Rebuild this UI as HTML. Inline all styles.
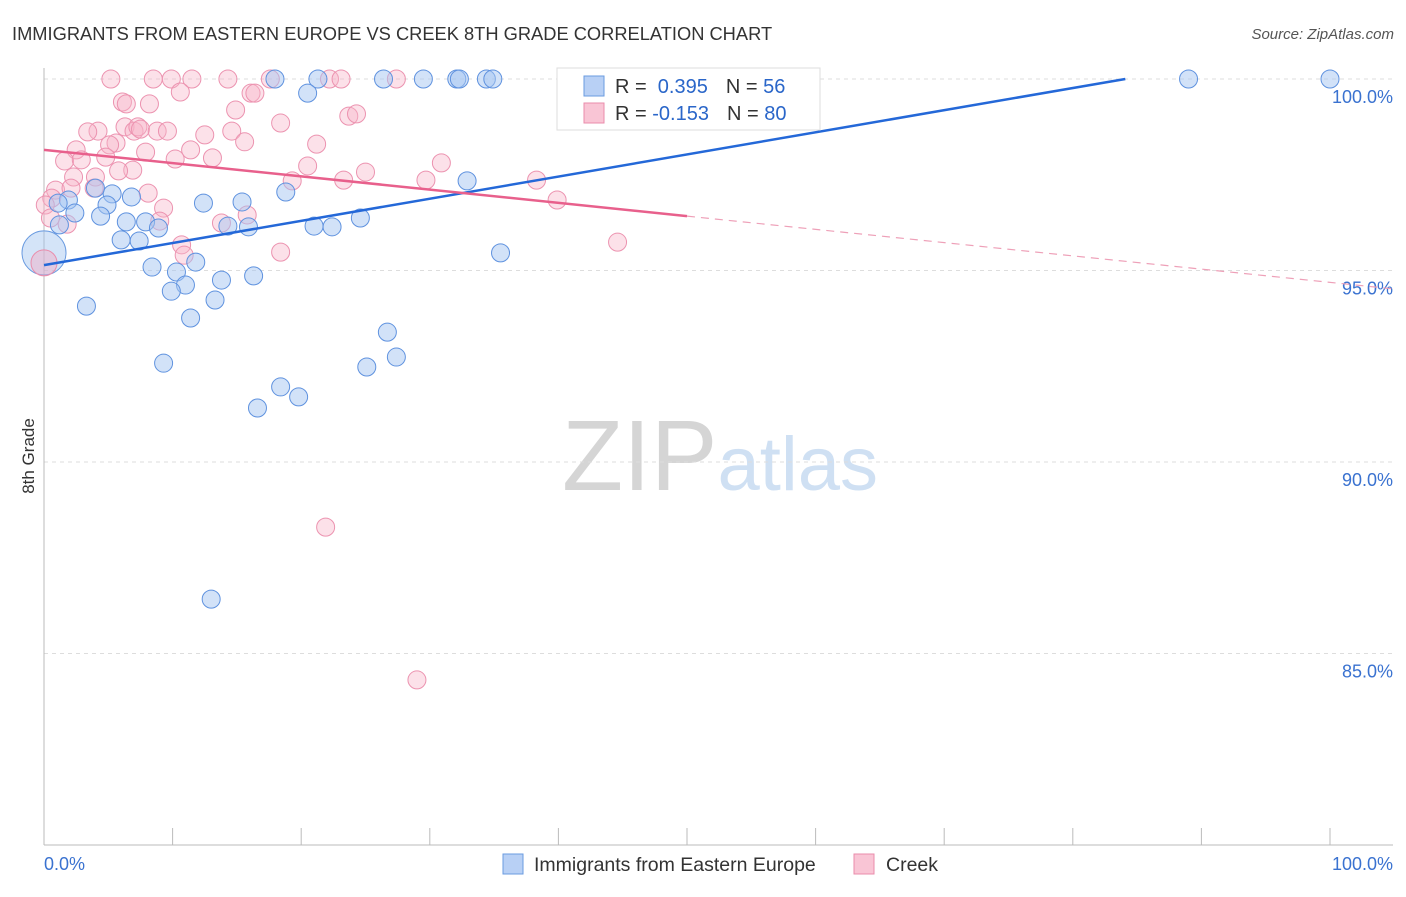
<!DOCTYPE html>
<html><head><meta charset="utf-8"><style>
body{margin:0;background:#fff;font-family:"Liberation Sans",sans-serif;}
svg text{font-family:"Liberation Sans",sans-serif;}
</style></head><body>
<svg id="chart" width="1406" height="892">
<text x="12" y="40" font-size="18.3" fill="#333">IMMIGRANTS FROM EASTERN EUROPE VS CREEK 8TH GRADE CORRELATION CHART</text>
<text x="1394" y="39" font-size="15" fill="#555" text-anchor="end" font-style="italic">Source: ZipAtlas.com</text>
<text x="34" y="456" font-size="17" fill="#333" text-anchor="middle" transform="rotate(-90 34 456)">8th Grade</text>
<text x="720" y="490" font-size="100" fill="#d8d8d8" text-anchor="middle" font-family="Liberation Serif"><tspan fill="#d5d5d5">ZIP</tspan><tspan fill="#cfe0f3" font-family="Liberation Sans" font-size="76">atlas</tspan></text>
<g id="grid"></g><g id="axes"></g><g id="pts"></g><g id="lines"></g>
<g>
<rect x="557" y="68" width="263" height="62" fill="#fff" stroke="#ddd"/>
<rect x="584" y="76" width="20" height="20" fill="#b8d0f5" stroke="#6a9be0"/>
<text x="615" y="93" font-size="20" fill="#333">R = <tspan fill="#2a66c9">&#160;0.395</tspan><tspan dx="18">N = </tspan><tspan fill="#2a66c9">56</tspan></text>
<rect x="584" y="103" width="20" height="20" fill="#f9c5d5" stroke="#ea8cab"/>
<text x="615" y="120" font-size="20" fill="#333">R = <tspan fill="#2a66c9">-0.153</tspan><tspan dx="18">N = </tspan><tspan fill="#2a66c9">80</tspan></text>
</g>
<g>
<rect x="503" y="854" width="20" height="20" fill="#b8d0f5" stroke="#6a9be0"/>
<text x="534" y="871" font-size="19.5" fill="#333">Immigrants from Eastern Europe</text>
<rect x="854" y="854" width="20" height="20" fill="#f9c5d5" stroke="#ea8cab"/>
<text x="886" y="871" font-size="19.5" fill="#333">Creek</text>
</g>
</svg>
<script>
const yTicks=[100,95,90,85];
const xTickLabels=["0.0%","100.0%"];
const blueX=[17.96,21.3,26.4,29.5,32.1,32.3,34.4,34.9,89.0,100,20.5,32.9,18.8,12.4,15.4,6.8,5.3,4.0,1.9,1.1,4.9,4.4,2.4,1.2,6.4,7.9,8.9,14.3,15.9,21.0,22.4,24.6,6.0,7.4,35.5,8.4,11.8,10.3,16.3,13.8,11.0,9.9,13.3,3.3,11.4,26.7,9.3,27.4,25.1,18.4,19.8,16.6,13.0];
const blueY=[100,100,100,100,100,100,100,100,100,100,99.63,97.34,97.05,96.76,96.79,96.92,97.0,97.15,96.84,96.76,96.71,96.42,96.5,96.19,96.27,96.27,96.11,96.16,96.14,96.16,96.14,96.37,95.80,95.77,95.46,95.09,95.22,94.96,94.86,94.75,94.62,94.46,94.23,94.07,93.76,93.39,92.58,92.74,92.48,91.96,91.70,91.41,86.42];
const pinkX=[5.2,8.5,9.9,11.5,14.3,17.6,22.2,23.1,27.4,50.1,10.6,6.1,6.4,8.2,16.1,16.4,14.9,18.4,23.7,24.3,4.2,3.4,6.3,7.0,7.3,7.5,8.8,9.6,12.5,14.6,15.6,21.2,5.6,5.1,2.5,1.6,2.9,4.8,7.9,11.4,13.1,10.2,20.5,30.9,25.0,6.9,5.8,4.0,2.3,19.3,23.3,29.7,38.3,0.9,3.9,8.1,2.1,39.9,9.3,15.8,13.8,9.0,1.8,10.7,10.9,18.4,44.6,0.6,0.1,0.5,21.9,29.0];
const pinkY=[100,100,100,100,100,100,100,100,100,100,99.66,99.40,99.35,99.35,99.63,99.63,99.19,98.85,99.03,99.09,98.64,98.62,98.75,98.64,98.75,98.69,98.64,98.64,98.54,98.64,98.36,98.30,98.33,98.28,98.15,97.86,97.89,97.96,98.09,98.15,97.94,97.91,97.73,97.81,97.57,97.62,97.60,97.44,97.44,97.34,97.36,97.36,97.36,97.10,97.15,97.02,97.15,96.84,96.63,96.45,96.24,96.29,96.21,95.67,95.40,95.48,95.74,96.89,96.71,96.37,88.30,84.31];
const blueTrend=[95.14,0.0578];
const pinkTrend=[98.15,-0.0346];
const NS="http://www.w3.org/2000/svg";
const X=v=>44+v*12.86, Y=v=>79+(100-v)*38.3;
function mk(tag,attrs,parent){const e=document.createElementNS(NS,tag);for(const k in attrs)e.setAttribute(k,attrs[k]);document.getElementById(parent).appendChild(e);return e;}
yTicks.forEach(t=>{
 const l=mk('line',{x1:44,x2:1393,y1:Y(t),y2:Y(t),stroke:'#ddd','stroke-dasharray':'4 4'},'grid');
 
 
 const tx=mk('text',{x:1393,y:Y(t)+24,'font-size':18,fill:'#3a72d0','text-anchor':'end'},'grid');
 tx.textContent=t.toFixed(1)+'%';
 
 
});
mk('line',{x1:44,x2:44,y1:68,y2:845,stroke:'#bbb'},'axes');
mk('line',{x1:44,x2:1393,y1:845,y2:845,stroke:'#bbb'},'axes');
for(let i=0;i<=10;i++){const t=mk('line',{x1:X(i*10),x2:X(i*10),y1:828,y2:845,stroke:'#bbb'},'axes');
 
 }
[[0,'start'],[100,'end']].forEach((p,i)=>{const t=mk('text',{x:i?1393:44,y:870,'font-size':18,fill:'#3a72d0','text-anchor':p[1]},'axes');t.textContent=xTickLabels[i];
 
 });
const bb=mk('circle',{cx:X(0),cy:Y(95.46),r:22,fill:'rgba(160,195,240,0.45)',stroke:'#6a9be0'},'pts');


const pb=mk('circle',{cx:X(0),cy:Y(95.2),r:13,fill:'rgba(245,170,195,0.45)',stroke:'#ea8cab'},'pts');


pinkX.forEach((x,i)=>{const c=mk('circle',{cx:X(x),cy:Y(pinkY[i]),r:9,fill:'rgba(248,180,200,0.4)',stroke:'#ec93b0','stroke-width':1},'pts');
 
 });
blueX.forEach((x,i)=>{const c=mk('circle',{cx:X(x),cy:Y(blueY[i]),r:9,fill:'rgba(165,198,242,0.5)',stroke:'#5f92df','stroke-width':1},'pts');
 
 });
const bEnd=(100-blueTrend[0])/blueTrend[1];
const bl=mk('line',{x1:X(0),y1:Y(blueTrend[0]),x2:X(bEnd),y2:Y(100),stroke:'#2468d8','stroke-width':2.5},'lines');


const pl=mk('line',{x1:X(0),y1:Y(pinkTrend[0]),x2:X(50),y2:Y(pinkTrend[0]+50*pinkTrend[1]),stroke:'#e8608c','stroke-width':2.5},'lines');


const pd=mk('line',{x1:X(50),y1:Y(pinkTrend[0]+50*pinkTrend[1]),x2:X(104.9),y2:Y(pinkTrend[0]+104.9*pinkTrend[1]),stroke:'#eea0b8','stroke-width':1.2,'stroke-dasharray':'8 6'},'lines');


</script>
</body></html>
